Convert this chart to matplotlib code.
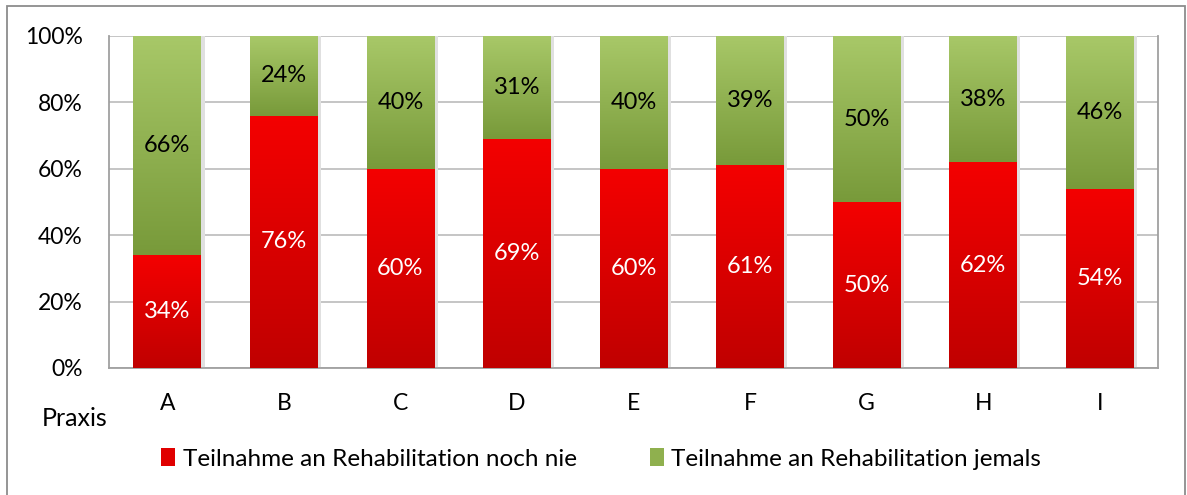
import matplotlib
matplotlib.use("Agg")
import matplotlib.pyplot as plt
import numpy as np
from matplotlib.patches import Rectangle

categories = ["A", "B", "C", "D", "E", "F", "G", "H", "I"]
nie = [34, 76, 60, 69, 60, 61, 50, 62, 54]
jemals = [66, 24, 40, 31, 40, 39, 50, 38, 46]
yticks = [0, 20, 40, 60, 80, 100]
label_nie = "Teilnahme an Rehabilitation noch nie"
label_jemals = "Teilnahme an Rehabilitation jemals"

plt.rcParams['font.family'] = ['Lato', 'DejaVu Sans']

fig = plt.figure(figsize=(11.87, 4.95), dpi=100)
# outer border (bottom edge off-canvas)
fig.patches.append(Rectangle((7/1187, -10/495), 1178/1187, (489 + 10)/495, transform=fig.transFigure,
                             fill=False, edgecolor="#8c8c8c", linewidth=1.3))

ax = fig.add_axes([109/1187, 1 - 368/495, 1049/1187, (368 - 36)/495])
x = np.arange(len(categories))
w = 0.58


def gradient_bar(bars, top_col, bot_col):
    t = np.array(matplotlib.colors.to_rgb(top_col))
    bc = np.array(matplotlib.colors.to_rgb(bot_col))
    for b in bars:
        x0, y0 = b.get_x(), b.get_y()
        bw, bh = b.get_width(), b.get_height()
        f = np.linspace(0, 1, 128).reshape(-1, 1, 1)
        img = bc * f + t * (1 - f)  # row0 = top
        im = ax.imshow(img, extent=(x0, x0 + bw, y0, y0 + bh), origin="upper",
                       aspect="auto", zorder=3, interpolation="bilinear")
        im.set_clip_path(b)
        ax.add_patch(Rectangle((x0 + bw, y0), 0.03, bh, facecolor="#e0e0e0",
                               edgecolor="none", zorder=2))


b1 = ax.bar(x, nie, width=w, color="#e00000", zorder=3, linewidth=0, label=label_nie)
b2 = ax.bar(x, jemals, width=w, bottom=nie, color="#8fb04e", zorder=3, linewidth=0, label=label_jemals)
gradient_bar(b1, "#f40000", "#c00000")
gradient_bar(b2, "#a8c868", "#789a3a")

for i in range(len(categories)):
    ax.text(x[i], nie[i] / 2, f"{nie[i]}%", ha="center", va="center", color="white",
            fontsize=17, zorder=5)
    ax.text(x[i], nie[i] + jemals[i] / 2, f"{jemals[i]}%", ha="center", va="center",
            color="black", fontsize=17, zorder=5)

ax.set_xlim(-0.5, len(categories) - 0.5)
ax.set_ylim(0, 100)
ax.set_yticks(yticks)
ax.set_yticklabels([f"{v}%" for v in yticks], fontsize=16.5)
ax.set_xticks(x)
ax.set_xticklabels(categories, fontsize=16.5)
ax.tick_params(axis="y", length=0, pad=19)
ax.tick_params(axis="x", length=0, pad=18)
ax.grid(axis="y", color="#c0c0c0", linewidth=1.3, zorder=0)
ax.spines["top"].set_visible(False)
for s in ["left", "bottom", "right"]:
    ax.spines[s].set_color("#a0a0a0")
    ax.spines[s].set_linewidth(1.3)

fig.text(42/1187, 1 - 418/495, "Praxis", fontsize=18, va="center", ha="left")

leg = fig.legend(handles=[b1, b2], loc="center", bbox_to_anchor=(601/1187, 1 - 459/495),
                 ncol=2, frameon=False, fontsize=17.5, handlelength=0.6, handleheight=0.75,
                 handletextpad=0.3, columnspacing=3.0)

fig.savefig("out.png", dpi=100)
